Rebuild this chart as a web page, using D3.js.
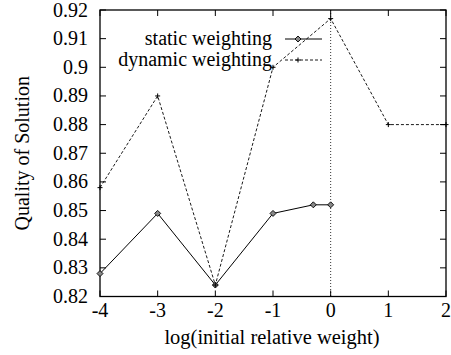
<!DOCTYPE html>
<html><head><meta charset="utf-8">
<script src="https://cdn.jsdelivr.net/npm/d3@7"></script>
<style>body{margin:0;background:#fff}svg{display:block}</style>
</head><body>
<script>
const staticX = [-4, -3, -2, -1, -0.301, 0];
const staticY = [0.828, 0.849, 0.824, 0.849, 0.852, 0.852];
const dynamicX = [-4, -3, -2, -1, 0, 1, 2];
const dynamicY = [0.858, 0.890, 0.824, 0.900, 0.917, 0.880, 0.880];
const xTicks = [-4, -3, -2, -1, 0, 1, 2];
const yTicks = [0.82, 0.83, 0.84, 0.85, 0.86, 0.87, 0.88, 0.89, 0.90, 0.91, 0.92];
const yTickLabels = ["0.82","0.83","0.84","0.85","0.86","0.87","0.88","0.89","0.9","0.91","0.92"];
const seriesNames = ["static weighting", "dynamic weighting"];

const W = 451, H = 355;
const L = 100, R = 446, T = 10, B = 296.5;
const fs = 20;
const FF = "'Liberation Serif', 'Times New Roman', Times, 'DejaVu Serif', serif";
const svg = d3.select("body").append("svg").attr("width", W).attr("height", H)
  .attr("font-family", FF);
const x = d3.scaleLinear().domain([-4, 2]).range([L, R]);
const y = d3.scaleLinear().domain([0.82, 0.92]).range([B, T]);
const txt = (size) => svg.append("text").style("font-family", FF).attr("font-size", size || fs).attr("fill", "#000");

// zero axis
svg.append("line").attr("x1", x(0)).attr("x2", x(0)).attr("y1", T).attr("y2", B)
  .attr("stroke", "#000").attr("stroke-width", 0.8).attr("stroke-dasharray", "1,2");

// ticks (inward, mirrored)
const tl = 6;
const g = svg.append("g").attr("stroke", "#000").attr("stroke-width", 1);
xTicks.forEach(v => {
  g.append("line").attr("x1", x(v)).attr("x2", x(v)).attr("y1", B).attr("y2", B - tl);
  g.append("line").attr("x1", x(v)).attr("x2", x(v)).attr("y1", T).attr("y2", T + tl);
});
yTicks.forEach(v => {
  g.append("line").attr("x1", L).attr("x2", L + tl).attr("y1", y(v)).attr("y2", y(v));
  g.append("line").attr("x1", R).attr("x2", R - tl).attr("y1", y(v)).attr("y2", y(v));
});
svg.append("rect").attr("x", L).attr("y", T).attr("width", R - L).attr("height", B - T)
  .attr("fill", "none").attr("stroke", "#000").attr("stroke-width", 1.3);

// tick labels
xTicks.forEach(v => {
  txt().attr("x", x(v)).attr("y", 317).attr("text-anchor", "middle").text(String(v));
});
yTicks.forEach((v, i) => {
  txt().attr("x", 88).attr("y", y(v) + 6.5).attr("text-anchor", "end").text(yTickLabels[i]);
});

// axis titles
txt(20.5).attr("x", (L + R) / 2 - 1).attr("y", 344).attr("text-anchor", "middle")
  .text("log(initial relative weight)");
txt().attr("transform", `translate(29,${(T + B) / 2}) rotate(-90)`)
  .attr("text-anchor", "middle").text("Quality of Solution");

const line = d3.line().x(d => x(d[0])).y(d => y(d[1]));
const sData = staticX.map((v, i) => [v, staticY[i]]);
const dData = dynamicX.map((v, i) => [v, dynamicY[i]]);

svg.append("path").attr("d", line(dData)).attr("fill", "none").attr("stroke", "#000")
  .attr("stroke-width", 0.9).attr("stroke-dasharray", "3,2");
svg.append("path").attr("d", line(sData)).attr("fill", "none").attr("stroke", "#000")
  .attr("stroke-width", 1);

const diamond = (cx, cy) => {
  const r = 3;
  svg.append("path").attr("d", `M${cx},${cy - r}L${cx + r},${cy}L${cx},${cy + r}L${cx - r},${cy}Z`)
    .attr("fill", "#888").attr("stroke", "#000").attr("stroke-width", 0.9);
};
const plus = (cx, cy) => {
  const r = 2.5;
  svg.append("path").attr("d", `M${cx - r},${cy}H${cx + r}M${cx},${cy - r}V${cy + r}`)
    .attr("stroke", "#000").attr("stroke-width", 1);
};
sData.forEach(d => diamond(x(d[0]), y(d[1])));
dData.forEach(d => plus(x(d[0]), y(d[1])));

// legend
const ly = [39, 60];
seriesNames.forEach((n, i) => {
  txt().attr("x", 272).attr("y", ly[i] + 6).attr("text-anchor", "end").text(n);
});
svg.append("line").attr("x1", 285).attr("x2", 322).attr("y1", ly[0]).attr("y2", ly[0])
  .attr("stroke", "#000").attr("stroke-width", 1);
diamond(298, ly[0]);
svg.append("line").attr("x1", 285).attr("x2", 322).attr("y1", ly[1]).attr("y2", ly[1])
  .attr("stroke", "#000").attr("stroke-width", 0.9).attr("stroke-dasharray", "3,2");
plus(298, ly[1]);
</script>
</body></html>
